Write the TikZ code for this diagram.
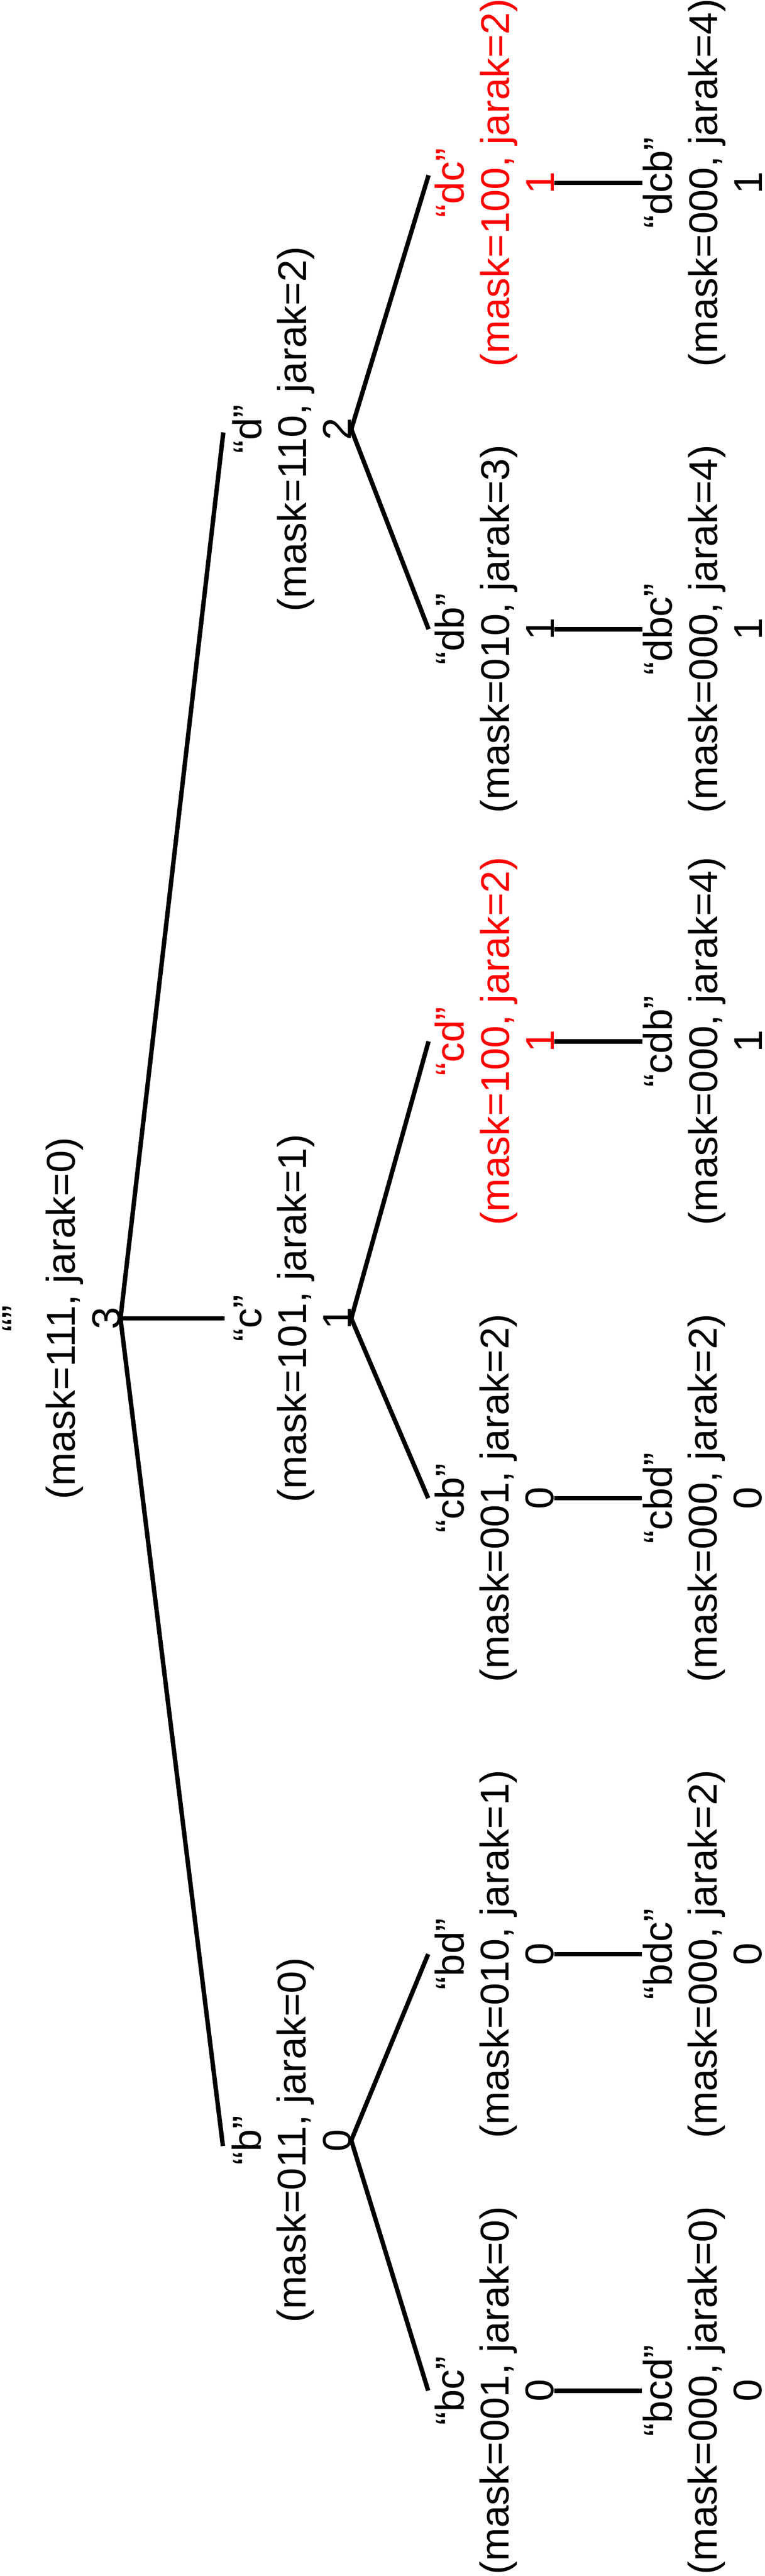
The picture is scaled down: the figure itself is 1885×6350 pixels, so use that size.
\documentclass[tikz,border=0pt]{standalone}
\usepackage{fontspec}
\setmainfont{Liberation Sans}
\usetikzlibrary{calc}
\begin{document}
\begin{tikzpicture}[x=0.10101pt, y=-0.10101pt,
  tn/.style={rotate=90, align=center, inner sep=0pt, outer sep=0pt, anchor=south,
             font=\fontsize{10pt}{11.2pt}\selectfont},
  hot/.style={text=red},
  edge/.style={line width=1.1pt}]
\useasboundingbox (0,0) rectangle (1885,6350);
% level 0
\node[tn] (r) at (297,3250) {“”\\(mask=111, jarak=0)\\3};
% level 1
\node[tn] (d) at (866,1058) {“d”\\(mask=110, jarak=2)\\2};
\node[tn] (c) at (866,3250) {“c”\\(mask=101, jarak=1)\\1};
\node[tn] (b) at (866,5276) {“b”\\(mask=011, jarak=0)\\0};
% level 2
\node[tn,hot] (dc) at (1366,451) {“dc”\\(mask=100, jarak=2)\\1};
\node[tn] (db) at (1366,1551) {“db”\\(mask=010, jarak=3)\\1};
\node[tn,hot] (cd) at (1366,2567) {“cd”\\(mask=100, jarak=2)\\1};
\node[tn] (cb) at (1366,3693) {“cb”\\(mask=001, jarak=2)\\0};
\node[tn] (bd) at (1366,4817) {“bd”\\(mask=010, jarak=1)\\0};
\node[tn] (bc) at (1366,5893) {“bc”\\(mask=001, jarak=0)\\0};
% level 3
\node[tn] (dcb) at (1879,451) {“dcb”\\(mask=000, jarak=4)\\1};
\node[tn] (dbc) at (1879,1551) {“dbc”\\(mask=000, jarak=4)\\1};
\node[tn] (cdb) at (1879,2567) {“cdb”\\(mask=000, jarak=4)\\1};
\node[tn] (cbd) at (1879,3693) {“cbd”\\(mask=000, jarak=2)\\0};
\node[tn] (bdc) at (1879,4817) {“bdc”\\(mask=000, jarak=2)\\0};
\node[tn] (bcd) at (1879,5893) {“bcd”\\(mask=000, jarak=0)\\0};
% edges
\draw[edge] (r.south) -- ($(d.north)+(-22,8)$);
\draw[edge] (r.south) -- ($(c.north)+(-22,0)$);
\draw[edge] (r.south) -- ($(b.north)+(-22,14)$);
\draw[edge] (d.south) -- ($(dc.north)+(-16,-19)$);
\draw[edge] (d.south) -- ($(db.north)+(-16,0)$);
\draw[edge] (c.south) -- ($(cd.north)+(-16,0)$);
\draw[edge] (c.south) -- ($(cb.north)+(-16,0)$);
\draw[edge] (b.south) -- ($(bd.north)+(-16,0)$);
\draw[edge] (b.south) -- ($(bc.north)+(-16,0)$);
\draw[edge] (dc.south) -- ($(dcb.north)+(-2,0)$);
\draw[edge] (db.south) -- ($(dbc.north)+(-2,0)$);
\draw[edge] (cd.south) -- ($(cdb.north)+(-2,0)$);
\draw[edge] (cb.south) -- ($(cbd.north)+(-2,0)$);
\draw[edge] (bd.south) -- ($(bdc.north)+(-2,0)$);
\draw[edge] (bc.south) -- ($(bcd.north)+(-2,0)$);
\end{tikzpicture}
\end{document}
